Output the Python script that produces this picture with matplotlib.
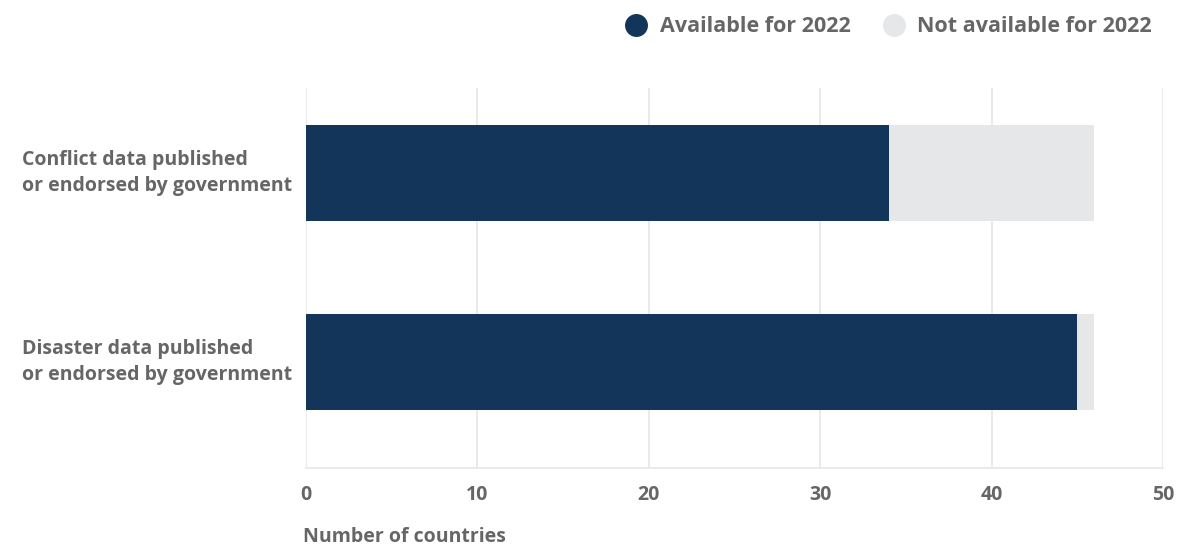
import matplotlib
matplotlib.use("Agg")
import matplotlib.pyplot as plt
from matplotlib.lines import Line2D
import matplotlib.transforms as mtransforms

categories = ["Conflict data published\nor endorsed by government",
              "Disaster data published\nor endorsed by government"]
available = [34, 45]
not_available = [12, 1]
series_names = ["Available for 2022", "Not available for 2022"]
xticks = [0, 10, 20, 30, 40, 50]

c_avail = "#13355a"
c_not = "#e6e7e9"
txt = "#666666"
FAM = ['Open Sans', 'DejaVu Sans']

plt.rcParams['font.family'] = FAM
fig = plt.figure(figsize=(11.8, 5.47), dpi=100)
ax = fig.add_axes([306/1180, 1-468/547, (1163-306)/1180, (468-88)/547])

y = list(range(len(categories)))
ax.barh(y, available, height=0.51, color=c_avail, zorder=3)
ax.barh(y, not_available, left=available, height=0.51, color=c_not, zorder=3)

ax.set_xlim(0, 50)
ax.set_ylim(1 + 106/189, -85/189)
ax.set_xticks(xticks)
ax.set_xticklabels([str(t) for t in xticks], fontsize=14, fontweight='bold', color=txt)
ax.set_yticks(y)
ax.set_yticklabels([])
ax.tick_params(axis='y', length=0)
ax.tick_params(axis='x', length=0, pad=12)
trans = mtransforms.blended_transform_factory(ax.transAxes, ax.transData)
for yi, lab in zip(y, categories):
    ax.text((22-306)/857, yi, lab, transform=trans, ha='left', va='center',
            fontsize=14, fontweight='bold', color=txt, linespacing=1.45)
ax.grid(axis='x', color='#e6e6e6', linewidth=1.2, zorder=0)
for s in ['top', 'right', 'left']:
    ax.spines[s].set_visible(False)
ax.spines['bottom'].set_color('#e6e6e6')
ax.spines['bottom'].set_linewidth(1.2)

fig.text(303/1180, 1-537/547, "Number of countries", ha='left', va='center',
         fontsize=14, fontweight='bold', color=txt)

handles = [Line2D([], [], marker='o', linestyle='none', markersize=15.5, markerfacecolor=c, markeredgecolor=c)
           for c in (c_avail, c_not)]
leg = fig.legend(handles, series_names, loc='center right', bbox_to_anchor=(1152/1180, 1-27/547), ncol=2,
                 frameon=False, handletextpad=0.1, columnspacing=1.0, borderpad=0, borderaxespad=0,
                 prop={'family': FAM, 'weight': 'bold', 'size': 15.5})
for t in leg.get_texts():
    t.set_color(txt)

fig.savefig("out.png", dpi=100)
